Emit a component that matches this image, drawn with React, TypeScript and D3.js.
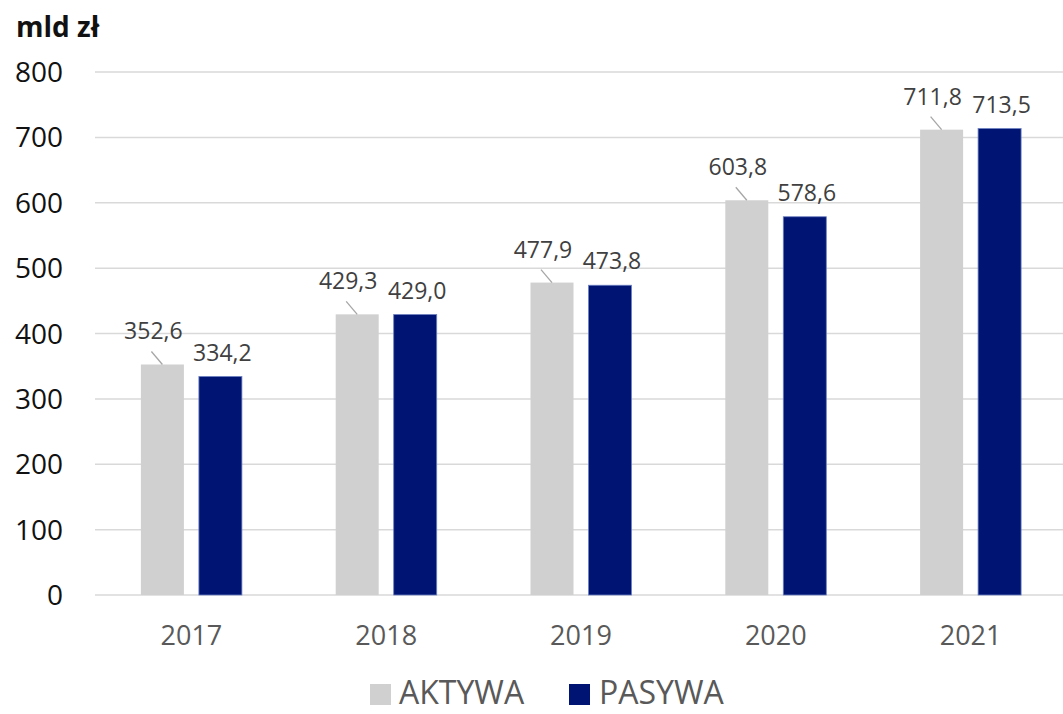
import React from "react";
import * as d3 from "d3";

const years = ["2017", "2018", "2019", "2020", "2021"];
const aktywa = [352.6, 429.3, 477.9, 603.8, 711.8];
const pasywa = [334.2, 429.0, 473.8, 578.6, 713.5];
const yTicks = [0, 100, 200, 300, 400, 500, 600, 700, 800];
const seriesNames = ["AKTYWA", "PASYWA"];
const colors = ["#d0d0d0", "#001473"];

const W = 1063;
const H = 714;
const left = 94;
const right = 1068;
const top = 72;
const bottom = 595;
const FONT = "'Open Sans', 'Noto Sans', sans-serif";

const fmt = (v: number) => v.toFixed(1).replace(".", ",");

export default function App() {
  const x = d3.scaleBand<string>().domain(years).range([left, right]).paddingInner(0).paddingOuter(0);
  const y = d3.scaleLinear().domain([0, 800]).range([bottom, top]);
  const barW = 43;
  const gap = 15;
  const xs = (yr: string, i: number) => {
    const c = (x(yr) as number) + x.bandwidth() / 2;
    return i === 0 ? c - gap / 2 - barW : c + gap / 2;
  };
  return (
    <svg width={W} height={H} style={{ position: "absolute", left: 0, top: 0, background: "#fff" }} fontFamily={FONT}>
      <text x={16} y={37} fontSize={28} fontWeight={700} fill="#111">mld zł</text>
      {yTicks.map((t) => (
        <g key={t}>
          <line x1={95} x2={W} y1={y(t)} y2={y(t)} stroke="#d9d9d9" strokeWidth={1.5} />
          <text x={63} y={y(t)} dy="0.36em" textAnchor="end" fontSize={28} fill="#111">{t}</text>
        </g>
      ))}
      {years.map((yr, k) => (
        <g key={yr}>
          <rect x={xs(yr, 0)} y={y(aktywa[k])} width={barW} height={bottom - y(aktywa[k])} fill={colors[0]} />
          <rect x={xs(yr, 1)} y={y(pasywa[k])} width={barW} height={bottom - y(pasywa[k])} fill={colors[1]} stroke="#6b7fc0" strokeWidth={0.8} />
          <line x1={xs(yr, 0) + barW / 2} y1={y(aktywa[k])} x2={xs(yr, 0) + barW / 2 - 11} y2={y(aktywa[k]) - 13} stroke="#a6a6a6" strokeWidth={1.3} />
          <text x={xs(yr, 0) + barW / 2 - 9} y={y(aktywa[k]) - 25} textAnchor="middle" fontSize={23} fill="#404040">{fmt(aktywa[k])}</text>
          <text x={xs(yr, 1) + barW / 2 + 2} y={y(pasywa[k]) - 16} textAnchor="middle" fontSize={23} fill="#404040">{fmt(pasywa[k])}</text>
          <text x={(x(yr) as number) + x.bandwidth() / 2} y={645} textAnchor="middle" fontSize={27} fill="#595959">{yr}</text>
        </g>
      ))}
      <g>
        <rect x={370} y={684} width={21} height={21} fill={colors[0]} />
        <text x={399} y={704} fontSize={32} fill="#595959">{seriesNames[0]}</text>
        <rect x={569} y={684} width={21} height={21} fill={colors[1]} />
        <text x={599} y={704} fontSize={32} fill="#595959">{seriesNames[1]}</text>
      </g>
    </svg>
  );
}
